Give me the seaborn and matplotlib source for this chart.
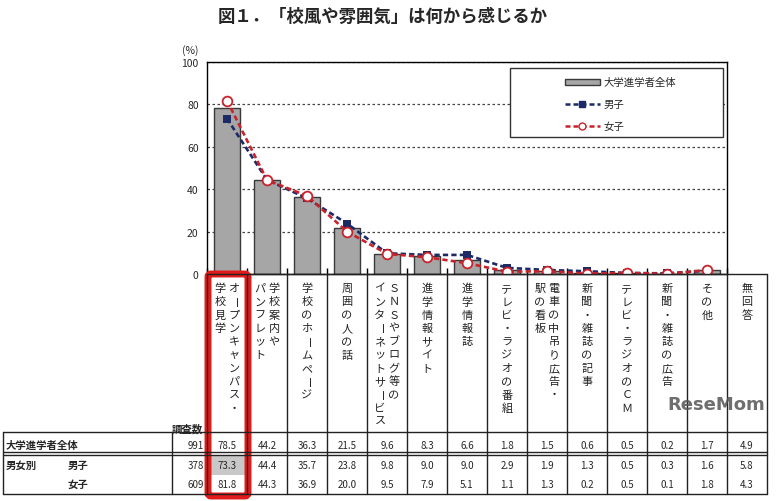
import numpy as np
import pandas as pd
import matplotlib
matplotlib.use('Agg')
import matplotlib.pyplot as plt
import seaborn as sns
from matplotlib.patches import Rectangle, FancyBboxPatch, Patch
from matplotlib.lines import Line2D

# Chart data
title = '図１．「校風や雰囲気」は何から感じるか'
categories = ['オープンキャンパス・学校見学', '学校案内やパンフレット', '学校のホームページ',
              '周囲の人の話', 'ＳＮＳやブログ等のインターネットサービス', '進学情報サイト',
              '進学情報誌', 'テレビ・ラジオの番組', '電車の中吊り広告・駅の看板',
              '新聞・雑誌の記事', 'テレビ・ラジオのＣＭ', '新聞・雑誌の広告', 'その他', '無回答']
# vertical label columns, read right to left
label_cols = [['オープンキャンパス・', '学校見学'], ['学校案内や', 'パンフレット'], ['学校のホームページ'],
              ['周囲の人の話'], ['ＳＮＳやブログ等の', 'インターネットサービス'], ['進学情報サイト'],
              ['進学情報誌'], ['テレビ・ラジオの番組'], ['電車の中吊り広告・', '駅の看板'],
              ['新聞・雑誌の記事'], ['テレビ・ラジオのＣＭ'], ['新聞・雑誌の広告'], ['その他'], ['無回答']]
total_pct = [78.5, 44.2, 36.3, 21.5, 9.6, 8.3, 6.6, 1.8, 1.5, 0.6, 0.5, 0.2, 1.7, 4.9]
boys_pct = [73.3, 44.4, 35.7, 23.8, 9.8, 9.0, 9.0, 2.9, 1.9, 1.3, 0.5, 0.3, 1.6, 5.8]
girls_pct = [81.8, 44.3, 36.9, 20.0, 9.5, 7.9, 5.1, 1.1, 1.3, 0.2, 0.5, 0.1, 1.8, 4.3]
counts = [991, 378, 609]
series_names = ['大学進学者全体', '男子', '女子']
n_plot = 13  # 無回答 is only in the table

sns.set_theme(style='white')
plt.rcParams['font.family'] = ['Noto Sans CJK JP', 'DejaVu Sans']

W, H = 779, 502
fig = plt.figure(figsize=(W / 100, H / 100), dpi=100)


def px_box(x0, y0, x1, y1):
    return [x0 / W, 1 - y1 / H, (x1 - x0) / W, (y1 - y0) / H]


# Main chart
ax = fig.add_axes(px_box(207, 63, 727, 275))
df = pd.DataFrame({'cat': categories[:n_plot], 'total': total_pct[:n_plot],
                   'boys': boys_pct[:n_plot], 'girls': girls_pct[:n_plot]})
sns.barplot(data=df, x='cat', y='total', color='#a6a6a6', saturation=1,
            edgecolor='#3a3a3a', linewidth=1, width=0.67, ax=ax, zorder=2)
sns.pointplot(data=df, x='cat', y='boys', color='#1c2a66', marker='s', markersize=5,
              linestyle=(0, (2, 1.2)), linewidth=1.9, errorbar=None, ax=ax, zorder=3)
sns.pointplot(data=df, x='cat', y='girls', color='#c8232c', marker='o', markersize=7,
              markerfacecolor='white', markeredgewidth=1.3,
              linestyle=(0, (2, 1.2)), linewidth=1.9, errorbar=None, ax=ax, zorder=4)

ax.set_xlim(-0.5, n_plot - 0.5)
ax.set_ylim(0, 100)
ax.set_yticks(range(0, 101, 20))
ax.set_xticks([])
ax.set_xticks(np.arange(-0.5, n_plot), minor=True)
ax.tick_params(axis='x', which='minor', direction='in', length=4, color='black', bottom=True)
ax.tick_params(axis='y', labelsize=7.5, length=0, pad=6)
ax.set_xlabel('')
ax.set_ylabel('')
ax.yaxis.grid(True, linestyle=(0, (2, 2)), color='#444444', linewidth=0.9)
ax.set_axisbelow(True)
for s in ax.spines.values():
    s.set_visible(True)
    s.set_color('black')
    s.set_linewidth(1)

# Legend with its own frame
ax.add_patch(Rectangle((0.583, 0.646), 0.409, 0.326, transform=ax.transAxes,
                       facecolor='white', edgecolor='#333333', linewidth=1, zorder=5))
handles = [Patch(facecolor='#a6a6a6', edgecolor='#3a3a3a', linewidth=1),
           Line2D([], [], color='#1c2a66', linestyle=(0, (2, 1.2)), linewidth=1.8,
                  marker='s', markersize=4),
           Line2D([], [], color='#c8232c', linestyle=(0, (2, 1.2)), linewidth=1.8,
                  marker='o', markersize=5, markerfacecolor='white')]
leg = ax.legend(handles, series_names, loc='upper left',
                bbox_to_anchor=((560 - 207) / 520, (275 - 73) / 212),
                frameon=False, fontsize=7.5, handlelength=3.3, handleheight=0.5,
                labelspacing=1.15, borderpad=0, handletextpad=0.4)
leg.set_zorder(6)

fig.text(190 / W, 1 - 51 / H, '(%)', fontsize=7.5, ha='center', va='center')
fig.text(383 / W, 1 - 17 / H, title, fontsize=12.5, fontweight='bold', ha='center', va='center')

# Overlay for labels and table, in pixel coordinates
ov = fig.add_axes([0, 0, 1, 1])
ov.set_xlim(0, W)
ov.set_ylim(H, 0)
ov.axis('off')

col_w = 40
col_x0 = 207
n_cols = len(categories)
bounds = [col_x0 + col_w * k for k in range(n_cols + 1)]
centers = [col_x0 + col_w * (k + 0.5) for k in range(n_cols)]
y_top, y_tab, y_d1, y_d2, y_bot = 275, 433, 453, 456, 495
lc = '#222222'

for b in bounds:
    ov.plot([b, b], [y_top, y_bot], color=lc, lw=1)
ov.plot([bounds[0], bounds[-1]], [y_top, y_top], color=lc, lw=1)
for yy in [y_tab, y_d1, y_d2, y_bot]:
    ov.plot([3, bounds[-1]], [yy, yy], color=lc, lw=1)
for xx in [3, 172]:
    ov.plot([xx, xx], [y_tab, y_bot], color=lc, lw=1)

# vertical category labels
char_step = 13.3
for i, cols in enumerate(label_cols):
    offs = [0] if len(cols) == 1 else [7, -7]
    for col, off in zip(cols, offs):
        for j, ch in enumerate(col):
            rot = -90 if ch == 'ー' else 0
            ov.text(centers[i] + off, 289 + j * char_step, ch, fontsize=8, ha='center',
                    va='center', rotation=rot, color='#222222')

# table
ov.add_patch(Rectangle((bounds[0], 457), col_w, 19, facecolor='#c8c8c8', edgecolor='none'))
row_y = [446, 466, 485]
ov.text(172, 429, '調査数', fontsize=7.5, ha='left', va='center', fontweight='bold')
ov.text(6, row_y[0], series_names[0], fontsize=7.5, ha='left', va='center', fontweight='bold')
ov.text(6, row_y[1], '男女別', fontsize=7.5, ha='left', va='center', fontweight='bold')
ov.text(68, row_y[1], series_names[1], fontsize=7.5, ha='left', va='center', fontweight='bold')
ov.text(68, row_y[2], series_names[2], fontsize=7.5, ha='left', va='center', fontweight='bold')
for r, (n, vals) in enumerate(zip(counts, [total_pct, boys_pct, girls_pct])):
    ov.text(204, row_y[r], str(n), fontsize=7, ha='right', va='center')
    for k, v in enumerate(vals):
        ov.text(centers[k], row_y[r], f'{v:.1f}', fontsize=7, ha='center', va='center')

# red highlight box on the first column
ov.add_patch(FancyBboxPatch((bounds[0] + 1, 275), col_w, 222,
                            boxstyle='round,pad=0,rounding_size=3',
                            facecolor='none', edgecolor='#e01b1b', linewidth=5))

# source watermark, kept clear of the table values
ov.text(765, 405, 'ReseMom', fontsize=13, fontweight='bold', color='#555555', alpha=0.85,
        ha='right', va='center', family='DejaVu Sans')

fig.savefig('out.png', dpi=100)
